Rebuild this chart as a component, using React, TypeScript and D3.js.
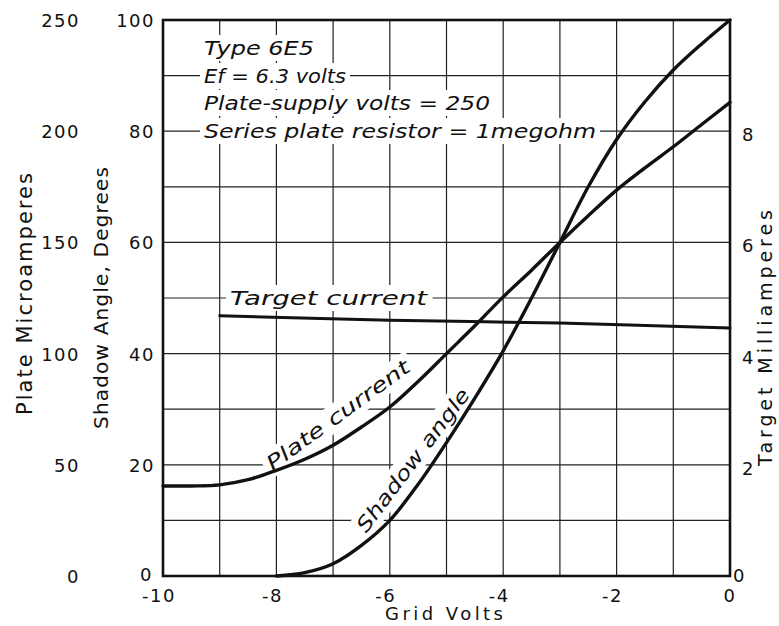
import React, { useEffect, useRef } from 'react';
import * as d3 from 'd3';

// grid volts (x) and the three scales
const gridVolts = [-10, -9, -8, -7, -6, -5, -4, -3, -2, -1, 0];
const voltLabels = [-10, -8, -6, -4, -2, 0];
const angleGrid = [0, 10, 20, 30, 40, 50, 60, 70, 80, 90, 100];
const angleLabels = [0, 20, 40, 60, 80, 100];
const plateLabels = [0, 50, 100, 150, 200, 250];
const targetLabels = [0, 2, 4, 6, 8];

// shadow angle, degrees
const shadowVolts = [-8, -7.5, -7, -6.5, -6, -5.5, -5, -4.5, -4, -3.5, -3, -2.5, -2, -1.5, -1, -0.5, 0];
const shadowDeg = [0, 0.6, 2.2, 5.5, 10, 16.5, 24, 32, 40.5, 50, 60, 70, 78.5, 85.3, 91, 95.7, 100];

// plate current, microamperes
const plateVolts = [-10, -9.5, -9, -8.5, -8, -7.5, -7, -6.5, -6, -5.5, -5, -4.5, -4, -3.5, -3, -2.5, -2, -1.5, -1, -0.5, 0];
const plateUA = [40.5, 40.5, 41, 43.3, 47.5, 52.5, 58.8, 67, 76, 87.5, 100, 112.5, 125.5, 137.5, 150, 162, 173.5, 183.5, 193, 203, 213];

// target current, milliamperes
const targetVolts = [-9, -6, -3, 0];
const targetMA = [4.68, 4.6, 4.55, 4.46];

const notes = ['Type 6E5', 'Ef = 6.3 volts', 'Plate-supply volts = 250', 'Series plate resistor = 1megohm'];

const W = 779;
const H = 626;
const font = '"DejaVu Sans", sans-serif';

export default function App() {
  const ref = useRef<SVGSVGElement>(null);

  useEffect(() => {
    const svg = d3.select(ref.current);
    svg.selectAll('*').remove();

    const x = d3.scaleLinear().domain([-10, 0]).range([163, 730]);
    const yDeg = d3.scaleLinear().domain([0, 100]).range([576, 20]);
    const yUA = d3.scaleLinear().domain([0, 250]).range([576, 20]);
    const yMA = d3.scaleLinear().domain([0, 10]).range([576, 20]);

    svg.append('rect').attr('width', W).attr('height', H).attr('fill', '#fff');

    // grid
    const grid = svg.append('g').attr('stroke', '#222').attr('stroke-width', 1.2);
    grid.selectAll('line.v').data(gridVolts).enter().append('line')
      .attr('x1', d => x(d)).attr('x2', d => x(d))
      .attr('y1', yDeg(0)).attr('y2', yDeg(100));
    grid.selectAll('line.h').data(angleGrid).enter().append('line')
      .attr('x1', x(-10)).attr('x2', x(0))
      .attr('y1', d => yDeg(d)).attr('y2', d => yDeg(d));

    // text with white box behind it
    const boxed = (g: any, txt: string, tx: number, ty: number, size: number, len: number | null, anchor = 'start') => {
      const t = g.append('text')
        .attr('x', tx).attr('y', ty)
        .attr('font-family', font).attr('font-size', size)
        .attr('font-style', 'italic').attr('text-anchor', anchor)
        .attr('fill', '#111').text(txt);
      if (len) t.attr('textLength', len).attr('lengthAdjust', 'spacingAndGlyphs');
      const b = (t.node() as SVGTextElement).getBBox();
      g.insert('rect', () => t.node())
        .attr('x', b.x - 4).attr('y', b.y - 1)
        .attr('width', b.width + 8).attr('height', b.height + 2)
        .attr('fill', '#fff');
    };

    const noteG = svg.append('g');
    const noteY = [55, 83, 110, 138];
    const noteLen = [110, 142, 286, 392];
    notes.forEach((n, i) => boxed(noteG, n, 204, noteY[i], 20, noteLen[i]));

    boxed(svg.append('g'), 'Target current', 230, 305, 20, 197);

    const pc = svg.append('g').attr('transform', 'translate(338,415) rotate(-36)');
    boxed(pc, 'Plate current', 0, 7, 20, 172, 'middle');
    const sa = svg.append('g').attr('transform', 'translate(413,460) rotate(-53)');
    boxed(sa, 'Shadow angle', 0, 7, 20, 174, 'middle');

    // curves
    const curves = svg.append('g').attr('fill', 'none').attr('stroke', '#111')
      .attr('stroke-width', 3.4).attr('stroke-linecap', 'round');
    const lineXY = d3.line<[number, number]>().x(d => d[0]).y(d => d[1]).curve(d3.curveCatmullRom.alpha(0.5));
    curves.append('path').attr('d', lineXY(shadowVolts.map((v, i) => [x(v), yDeg(shadowDeg[i])])));
    curves.append('path').attr('d', lineXY(plateVolts.map((v, i) => [x(v), yUA(plateUA[i])])));
    curves.append('path').attr('stroke-width', 3).attr('d', lineXY(targetVolts.map((v, i) => [x(v), yMA(targetMA[i])])));

    // frame
    svg.append('rect')
      .attr('x', x(-10)).attr('y', yDeg(100))
      .attr('width', x(0) - x(-10)).attr('height', yDeg(0) - yDeg(100))
      .attr('fill', 'none').attr('stroke', '#111').attr('stroke-width', 2.6);

    const ticks = svg.append('g').attr('font-family', font).attr('font-size', 18).attr('fill', '#111')
      .attr('letter-spacing', 1.5);

    ticks.selectAll('text.ua').data(plateLabels).enter().append('text')
      .attr('x', 80).attr('y', d => yUA(d) + 7).attr('text-anchor', 'end')
      .text(d => String(d));
    ticks.selectAll('text.deg').data(angleLabels).enter().append('text')
      .attr('x', d => (d === 0 ? 153 : 155)).attr('y', d => yDeg(d) + (d === 0 ? 5 : 7)).attr('text-anchor', 'end')
      .text(d => String(d));
    ticks.selectAll('text.ma').data(targetLabels).enter().append('text')
      .attr('x', d => (d === 0 ? 733 : 742)).attr('y', d => yMA(d) + (d === 0 ? 6 : 10))
      .text(d => String(d));
    ticks.selectAll('text.v').data(voltLabels).enter().append('text')
      .attr('x', d => x(d) - (d < 0 ? 4 : 0)).attr('y', 602).attr('text-anchor', 'middle')
      .text(d => String(d));

    // axis titles
    const titles = svg.append('g').attr('font-family', font).attr('fill', '#111');
    titles.append('text').attr('transform', 'translate(32,294) rotate(-90)')
      .attr('font-size', 21)
      .attr('text-anchor', 'middle').attr('textLength', 242).attr('lengthAdjust', 'spacing')
      .text('Plate Microamperes');
    titles.append('text').attr('transform', 'translate(108,298) rotate(-90)')
      .attr('font-size', 20)
      .attr('text-anchor', 'middle').attr('textLength', 262).attr('lengthAdjust', 'spacing')
      .text('Shadow Angle, Degrees');
    titles.append('text').attr('transform', 'translate(772,338) rotate(-90)')
      .attr('font-size', 19)
      .attr('text-anchor', 'middle').attr('textLength', 256).attr('lengthAdjust', 'spacing')
      .text('Target Milliamperes');
    titles.append('text').attr('x', 444).attr('y', 620).attr('text-anchor', 'middle')
      .attr('font-size', 18)
      .attr('textLength', 118).attr('lengthAdjust', 'spacing')
      .text('Grid Volts');
  }, []);

  return (
    <svg ref={ref} width={W} height={H} style={{ position: 'absolute', left: 0, top: 0 }} />
  );
}
